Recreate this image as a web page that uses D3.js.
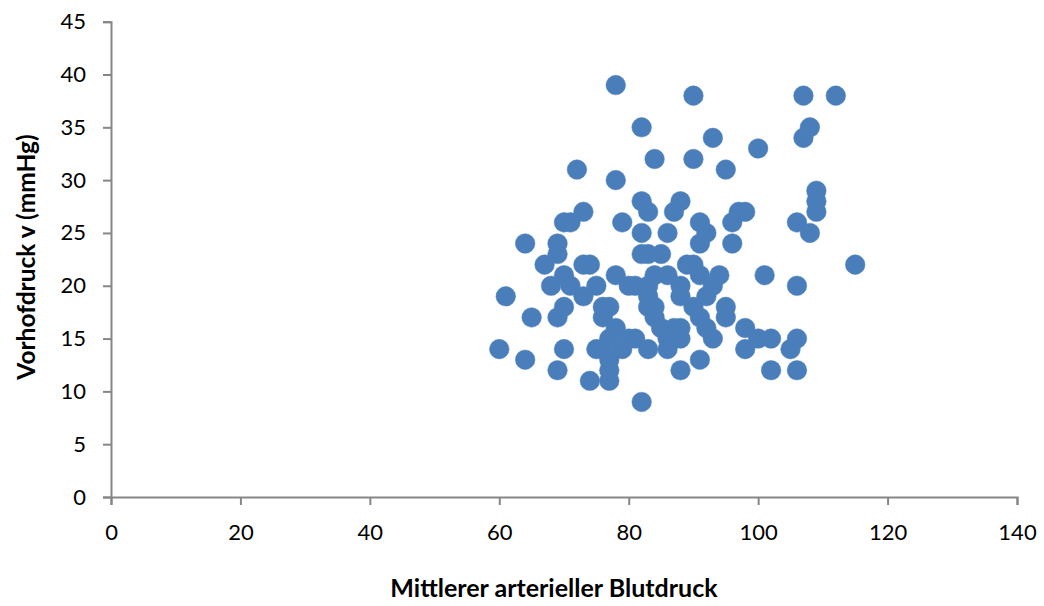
<!DOCTYPE html>
<html>
<head>
<meta charset="utf-8">
<script src="https://cdn.jsdelivr.net/npm/d3@7"></script>
<style>
  html, body { margin: 0; padding: 0; background: #fff; }
  svg { display: block; }
  text { font-family: Lato, "Open Sans", sans-serif; fill: #000; }
</style>
</head>
<body>
<svg id="chart" width="1044" height="606"></svg>
<script>
// Mittlerer arterieller Blutdruck (x) vs. Vorhofdruck v (y)
const meanArterial = [
  78, 90, 107, 112, 82, 108, 93, 107, 100, 84, 90, 72, 95, 78, 109,
  82, 88, 109, 73, 83, 87, 97, 98, 109, 70, 71, 79, 91, 96, 106,
  82, 86, 92, 108, 64, 69, 91, 96, 69, 82, 83, 85, 67, 73, 74,
  89, 90, 115, 70, 78, 84, 86, 91, 94, 101, 68, 71, 75, 80, 81,
  83, 88, 93, 106, 61, 73, 83, 88, 92, 70, 76, 77, 83, 84, 90,
  95, 65, 69, 76, 84, 91, 95, 78, 85, 87, 88, 92, 98, 77, 80,
  81, 86, 88, 93, 100, 102, 106, 60, 70, 75, 76, 79, 83, 86, 98,
  105, 64, 77, 91, 69, 77, 88, 102, 106, 74, 77, 82
];
const atrialV = [
  39, 38, 38, 38, 35, 35, 34, 34, 33, 32, 32, 31, 31, 30, 29,
  28, 28, 28, 27, 27, 27, 27, 27, 27, 26, 26, 26, 26, 26, 26,
  25, 25, 25, 25, 24, 24, 24, 24, 23, 23, 23, 23, 22, 22, 22,
  22, 22, 22, 21, 21, 21, 21, 21, 21, 21, 20, 20, 20, 20, 20,
  20, 20, 20, 20, 19, 19, 19, 19, 19, 18, 18, 18, 18, 18, 18,
  18, 17, 17, 17, 17, 17, 17, 16, 16, 16, 16, 16, 16, 15, 15,
  15, 15, 15, 15, 15, 15, 15, 14, 14, 14, 14, 14, 14, 14, 14,
  14, 13, 13, 13, 12, 12, 12, 12, 12, 11, 11, 9
];
const xTicks = [0, 20, 40, 60, 80, 100, 120, 140];
const yTicks = [0, 5, 10, 15, 20, 25, 30, 35, 40, 45];
const xTitle = "Mittlerer arterieller Blutdruck";
const yTitle = "Vorhofdruck v (mmHg)";

const svg = d3.select("#chart");
const plotLeft = 111, plotRight = 1017, plotTop = 21.7, plotBottom = 497;

const x = d3.scaleLinear().domain([0, 140]).range([plotLeft, plotRight]);
const y = d3.scaleLinear().domain([0, 45]).range([plotBottom, plotTop]);

const axisColor = "#868686";
const tickFont = "22px";

// x axis
const gx = svg.append("g")
  .attr("transform", `translate(0,${plotBottom})`)
  .call(d3.axisBottom(x).tickValues(xTicks).tickSize(8).tickPadding(19));

// y axis
const gy = svg.append("g")
  .attr("transform", `translate(${plotLeft},0)`)
  .call(d3.axisLeft(y).tickValues(yTicks).tickSize(8).tickPadding(17));

[gx, gy].forEach(g => {
  g.select(".domain").attr("stroke", axisColor).attr("stroke-width", 2);
  g.selectAll(".tick line").attr("stroke", axisColor).attr("stroke-width", 2);
  g.selectAll("text")
    .attr("fill", "#000")
    .style("font-family", "Lato, 'Open Sans', sans-serif")
    .style("font-size", tickFont);
});

// points
svg.append("g")
  .selectAll("circle")
  .data(meanArterial.map((v, i) => [v, atrialV[i]]))
  .join("circle")
  .attr("cx", d => x(d[0]))
  .attr("cy", d => y(d[1]))
  .attr("r", 9.8)
  .attr("fill", "#4A7EBB")
  .attr("stroke", "#4A7EBB")
  .attr("stroke-width", 0.5);

// axis titles
svg.append("text")
  .attr("x", 554)
  .attr("y", 597)
  .attr("text-anchor", "middle")
  .style("font-size", "25px")
  .style("font-weight", "bold")
  .text(xTitle);

svg.append("text")
  .attr("transform", `translate(35,257) rotate(-90)`)
  .attr("text-anchor", "middle")
  .style("font-size", "24.5px")
  .style("font-weight", "bold")
  .text(yTitle);
</script>
</body>
</html>
